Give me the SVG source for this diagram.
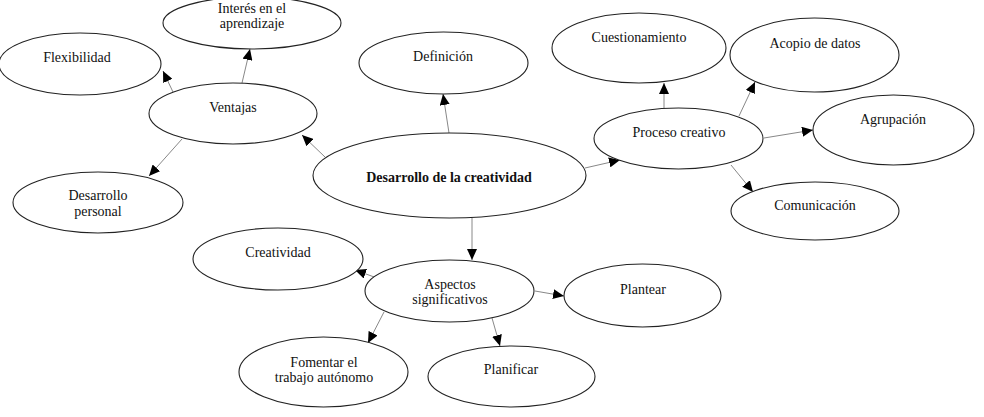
<svg xmlns="http://www.w3.org/2000/svg" width="984" height="417" viewBox="0 0 984 417">
<style>
ellipse{fill:#fff;stroke:#222;stroke-width:1.1}
text{font-family:"Liberation Serif","Times New Roman","DejaVu Serif",serif;font-size:14px;fill:#111;text-anchor:middle}
.b{font-weight:bold}
.c{stroke:#888;stroke-width:1;fill:none;marker-end:url(#ah)}
</style>
<defs>
<marker id="ah" markerUnits="userSpaceOnUse" markerWidth="12" markerHeight="10" refX="11" refY="5" orient="auto">
<path d="M0,0 L11,5 L0,10 Z" fill="#000"/>
</marker>
</defs>
<rect width="984" height="417" fill="#fff"/>
<g id="connectors">
<line class="c" x1="173" y1="92" x2="163" y2="71"/>
<line class="c" x1="242" y1="83" x2="250" y2="49"/>
<line class="c" x1="182" y1="139" x2="149" y2="176"/>
<line class="c" x1="325" y1="157" x2="302" y2="135"/>
<line class="c" x1="449" y1="133" x2="443" y2="94"/>
<line class="c" x1="585" y1="168" x2="620" y2="160"/>
<line class="c" x1="664" y1="108" x2="664" y2="83"/>
<line class="c" x1="739" y1="116" x2="755" y2="82"/>
<line class="c" x1="764" y1="138" x2="813" y2="130"/>
<line class="c" x1="731" y1="165" x2="753" y2="192"/>
<line class="c" x1="472" y1="218" x2="472" y2="260"/>
<line class="c" x1="377" y1="278" x2="355" y2="270"/>
<line class="c" x1="384" y1="312" x2="368" y2="343"/>
<line class="c" x1="492" y1="318" x2="500" y2="346"/>
<line class="c" x1="535" y1="291" x2="564" y2="296"/>
</g>
<g id="flexibilidad"><ellipse cx="80" cy="64" rx="81" ry="31"/><text x="77" y="61.5">Flexibilidad</text></g>
<g id="interes"><ellipse cx="252" cy="23" rx="89" ry="26"/><text x="252" y="12.5">Interés en el</text><text x="252" y="28">aprendizaje</text></g>
<g id="ventajas"><ellipse cx="233" cy="113.5" rx="84" ry="30.5"/><text x="233" y="112">Ventajas</text></g>
<g id="desarrollo-personal"><ellipse cx="98" cy="202.5" rx="85" ry="30.5"/><text x="98" y="200">Desarrollo</text><text x="98" y="215.5">personal</text></g>
<g id="definicion"><ellipse cx="443.5" cy="63" rx="84.5" ry="31"/><text x="443" y="60.5">Definición</text></g>
<g id="desarrollo-creatividad"><ellipse cx="449.5" cy="175.5" rx="136.5" ry="42.5"/><text class="b" x="449" y="181.5">Desarrollo de la creatividad</text></g>
<g id="cuestionamiento"><ellipse cx="639" cy="48" rx="87" ry="35"/><text x="639" y="42">Cuestionamiento</text></g>
<g id="acopio"><ellipse cx="814.5" cy="55" rx="84.5" ry="37"/><text x="815" y="48">Acopio de datos</text></g>
<g id="proceso"><ellipse cx="678.5" cy="138.5" rx="84.5" ry="30.5"/><text x="679" y="137">Proceso creativo</text></g>
<g id="agrupacion"><ellipse cx="893.5" cy="130" rx="80.5" ry="35"/><text x="893" y="124">Agrupación</text></g>
<g id="comunicacion"><ellipse cx="815" cy="211" rx="84" ry="29"/><text x="815" y="210">Comunicación</text></g>
<g id="creatividad"><ellipse cx="278" cy="259" rx="85" ry="31"/><text x="278" y="256.5">Creatividad</text></g>
<g id="aspectos"><ellipse cx="449.5" cy="291" rx="84.5" ry="31"/><text x="450" y="288.5">Aspectos</text><text x="450" y="304">significativos</text></g>
<g id="fomentar"><ellipse cx="323.5" cy="372" rx="84.5" ry="35"/><text x="324" y="366.5">Fomentar el</text><text x="324" y="381.5">trabajo autónomo</text></g>
<g id="planificar"><ellipse cx="511.5" cy="376.5" rx="83.5" ry="30.5"/><text x="511" y="374">Planificar</text></g>
<g id="plantear"><ellipse cx="642.5" cy="295.5" rx="78.5" ry="31.5"/><text x="643" y="293.5">Plantear</text></g>
</svg>
